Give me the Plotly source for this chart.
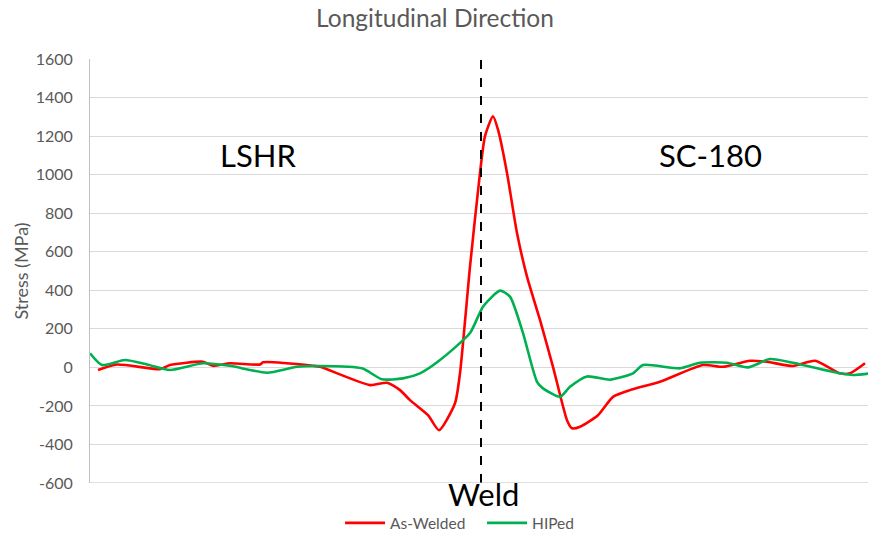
import plotly.graph_objects as go

# Distance from weld centre (mm) and residual stress (MPa)
as_welded_x = [-19.15, -18.2, -16.05, -15.55, -13.9, -13.4, -12.55, -11.05, -10.9, -8.4,
               -8.05, -5.55, -4.7, -4.05, -3.55, -2.65, -2.1, -1.3, -1.05, -0.55,
               -0.05, 0.2, 0.6, 0.85, 1.3, 1.8, 2.3, 2.95, 3.6, 4.3,
               4.55, 4.95, 5.85, 6.6, 7.45, 8.95, 11.1, 12.1, 13.45, 14.3,
               15.6, 16.7, 17.95, 18.45, 19.2]
as_welded_y = [-14, 15, -9, 12, 29, 8, 21, 15, 26, 8,
               3, -92, -80, -118, -170, -248, -326, -186, -30, 523,
               1009, 1200, 1303, 1233, 1009, 697, 471, 246, 3, -274,
               -316, -308, -248, -153, -118, -75, 12, 3, 34, 29,
               7, 34, -31, -31, 21]

hiped_x = [-19.55, -18.95, -17.8, -16.7, -15.55, -13.9, -12.55, -10.7, -9.2, -8.05,
           -5.95, -4.95, -3.9, -3.05, -2.05, -0.55, 0.1, 0.95, 1.45, 2.1,
           2.8, 3.1, 3.95, 4.45, 5.3, 6.45, 7.6, 8.1, 9.95, 10.95,
           12.3, 13.35, 14.45, 15.6, 17.95, 18.6, 19.45]
hiped_y = [73, 12, 38, 15, -14, 21, 8, -28, 3, 7,
           -5, -62, -57, -31, 38, 178, 315, 398, 367, 178,
           -75, -109, -153, -101, -47, -64, -31, 12, -5, 24,
           24, 0, 43, 24, -31, -40, -31]

y_ticks = [-600, -400, -200, 0, 200, 400, 600, 800, 1000, 1200, 1400, 1600]
y_tick_text = ["-600", "-400", "-200", "0", "200", "400", "600", "800",
               "1000", "1200", "1400", "1600"]

FONT = "Lato, 'Open Sans', sans-serif"
GREY = "#595959"

fig = go.Figure()
fig.add_trace(go.Scatter(x=as_welded_x, y=as_welded_y, name="As-Welded", mode="lines",
                         line=dict(color="#FF0000", width=2.6, shape="spline", smoothing=0.6)))
fig.add_trace(go.Scatter(x=hiped_x, y=hiped_y, name="HIPed", mode="lines",
                         line=dict(color="#00B050", width=2.6, shape="spline", smoothing=0.6)))

# Weld centre line
fig.add_shape(type="line", xref="x", yref="paper", x0=0, x1=0, y0=0, y1=1.017,
              line=dict(color="black", width=2, dash="dash"))

fig.add_annotation(x=-11.15, y=1103, text="LSHR", showarrow=False,
                   font=dict(family=FONT, size=31, color="black"))
fig.add_annotation(x=11.45, y=1103, text="SC-180", showarrow=False,
                   font=dict(family=FONT, size=31, color="black"))
fig.add_annotation(x=0.1, y=-0.026, xref="x", yref="paper", text="Weld", showarrow=False,
                   yanchor="middle", font=dict(family=FONT, size=31, color="black"))

fig.update_layout(
    width=870, height=536,
    margin=dict(l=90, r=2, t=59, b=53, autoexpand=False),
    paper_bgcolor="white", plot_bgcolor="white",
    font=dict(family=FONT, color=GREY),
    title=dict(text="Longitudinal Direction", x=0.5, xanchor="center", y=0.966, yanchor="middle",
               font=dict(family=FONT, size=24.5, color=GREY)),
    xaxis=dict(range=[-19.55, 19.35], showticklabels=False, showgrid=False, zeroline=False,
               showline=False, ticks=""),
    yaxis=dict(range=[-600, 1600], tickvals=y_ticks, ticktext=y_tick_text, showgrid=True,
               gridcolor="#D9D9D9", gridwidth=1, zeroline=False, showline=True,
               linecolor="#BFBFBF", linewidth=1, ticks="", ticklabelstandoff=13,
               tickfont=dict(family=FONT, size=16, color=GREY),
               title=dict(text="Stress (MPa)", standoff=2, font=dict(family=FONT, size=18, color=GREY))),
    legend=dict(orientation="h", x=0.3214, xanchor="left", y=-0.095, yanchor="middle",
                font=dict(family=FONT, size=15.5, color=GREY), itemwidth=40,
                entrywidth=87, entrywidthmode="pixels"),
    showlegend=True,
)

# Bottom border of the plot area
fig.add_shape(type="line", xref="paper", yref="y", x0=0, x1=1, y0=-600, y1=-600,
              line=dict(color="#BFBFBF", width=1))

fig.write_html("out.html")
